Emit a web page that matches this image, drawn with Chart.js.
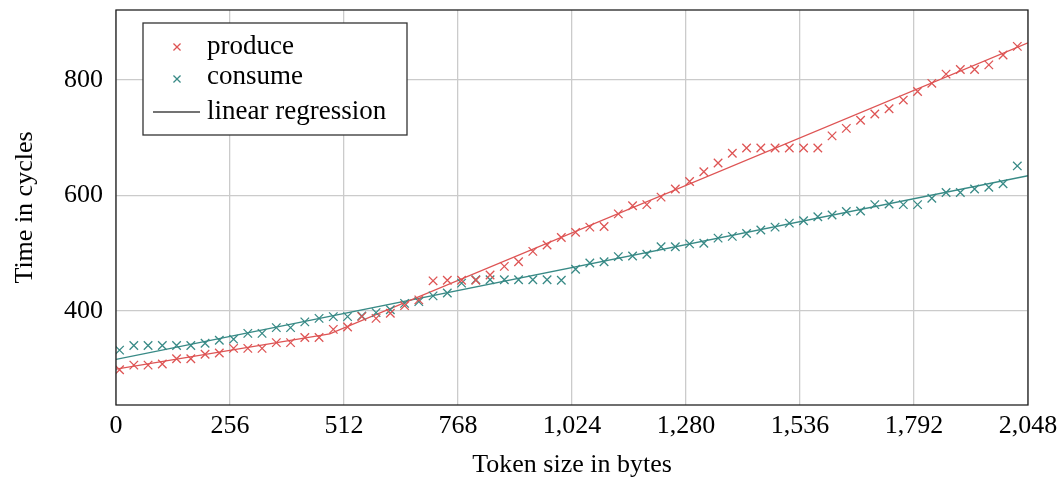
<!DOCTYPE html>
<html>
<head>
<meta charset="utf-8">
<script src="https://cdn.jsdelivr.net/npm/chart.js@4/dist/chart.umd.min.js"></script>
<style>
body { margin: 0; background: #fff; }
</style>
</head>
<body>
<canvas id="grafico" width="1060" height="483"></canvas>
<script>
// token sizes (bytes)
var tokenSizes = [8, 40, 72, 104, 136, 168, 200, 232, 264, 296, 328, 360, 392, 424, 456, 488,
    520, 552, 584, 616, 648, 680, 712, 744, 776, 808, 840, 872, 904, 936, 968, 1000,
    1032, 1064, 1096, 1128, 1160, 1192, 1224, 1256, 1288, 1320, 1352, 1384, 1416, 1448, 1480, 1512,
    1544, 1576, 1608, 1640, 1672, 1704, 1736, 1768, 1800, 1832, 1864, 1896, 1928, 1960, 1992, 2024];

// cycles for produce
var produceCycles = [298, 306, 306, 308, 317, 317, 325, 327, 335, 335, 335, 345, 345, 354, 354, 368,
    372, 390, 387, 396, 409, 419, 452, 453, 453, 453, 462, 477, 485, 503, 514, 527,
    536, 545, 546, 568, 582, 584, 597, 611, 624, 641, 656, 673, 682, 682, 682, 682,
    682, 682, 703, 716, 730, 741, 750, 765, 780, 794, 810, 818, 818, 826, 843, 858];

// cycles for consume
var consumeCycles = [332, 340, 340, 340, 340, 340, 344, 349, 351, 361, 361, 371, 371, 381, 387, 390,
    390, 391, 397, 402, 413, 416, 426, 431, 448, 454, 454, 454, 454, 454, 454, 453,
    472, 483, 485, 494, 495, 498, 511, 511, 516, 517, 526, 529, 534, 540, 545, 552,
    556, 563, 566, 572, 573, 584, 585, 584, 584, 595, 605, 605, 611, 614, 620, 651];

// regression lines
var produceFitX = [0, 480, 2048];
var produceFitY = [299, 360, 864];
var consumeFitX = [0, 2048];
var consumeFitY = [316, 634];

var xTicks = [0, 256, 512, 768, 1024, 1280, 1536, 1792, 2048];
var yTicks = [400, 600, 800];

var legendLabels = ['produce', 'consume', 'linear regression'];

var red = 'rgb(222, 84, 84)';
var teal = 'rgb(56, 138, 134)';
var fonte = '"Liberation Serif", "Times New Roman", serif';

function pares(xs, ys) {
    return xs.map(function (x, i) { return { x: x, y: ys[i] }; });
}

// frame around the plot area + legend box in the upper left corner
var molduraELegenda = {
    id: 'molduraELegenda',
    afterDraw: function (chart) {
        var ctx = chart.ctx;
        var area = chart.chartArea;
        ctx.save();
        ctx.strokeStyle = '#222';
        ctx.lineWidth = 1.3;
        ctx.strokeRect(area.left, area.top, area.right - area.left, area.bottom - area.top);

        // legend
        ctx.fillStyle = '#fff';
        ctx.fillRect(143, 23, 264, 112);
        ctx.strokeStyle = '#333';
        ctx.strokeRect(143, 23, 264, 112);

        ctx.lineWidth = 1.3;
        ctx.strokeStyle = red;
        Chart.helpers.drawPoint(ctx, { pointStyle: 'crossRot', radius: 5, borderWidth: 1.3 }, 177, 47);
        ctx.strokeStyle = teal;
        Chart.helpers.drawPoint(ctx, { pointStyle: 'crossRot', radius: 5, borderWidth: 1.3 }, 177, 79);
        ctx.strokeStyle = '#444';
        ctx.beginPath();
        ctx.moveTo(153, 112);
        ctx.lineTo(200, 112);
        ctx.stroke();

        ctx.fillStyle = '#000';
        ctx.font = '27px ' + fonte;
        ctx.textBaseline = 'alphabetic';
        ctx.textAlign = 'left';
        ctx.fillText(legendLabels[0], 207, 54);
        ctx.fillText(legendLabels[1], 207, 84);
        ctx.fillText(legendLabels[2], 207, 119);
        ctx.restore();
    }
};

var ctxGrafico = document.getElementById('grafico').getContext('2d');
var grafico = new Chart(ctxGrafico, {
    type: 'scatter',
    data: {
        datasets: [{
            label: legendLabels[0],
            data: pares(tokenSizes, produceCycles),
            pointStyle: 'crossRot',
            pointRadius: 6,
            pointBorderWidth: 1.3,
            borderColor: red,
            backgroundColor: red
        }, {
            label: legendLabels[1],
            data: pares(tokenSizes, consumeCycles),
            pointStyle: 'crossRot',
            pointRadius: 6,
            pointBorderWidth: 1.3,
            borderColor: teal,
            backgroundColor: teal
        }, {
            label: legendLabels[2],
            data: pares(produceFitX, produceFitY),
            showLine: true,
            pointRadius: 0,
            borderWidth: 1.3,
            borderColor: red
        }, {
            label: legendLabels[2],
            data: pares(consumeFitX, consumeFitY),
            showLine: true,
            pointRadius: 0,
            borderWidth: 1.3,
            borderColor: teal
        }]
    },
    options: {
        responsive: false,
        animation: false,
        devicePixelRatio: 1,
        layout: { padding: { left: 0, top: 10, right: 32, bottom: 0 } },
        plugins: {
            legend: { display: false },
            tooltip: { enabled: false }
        },
        scales: {
            x: {
                type: 'linear',
                min: 0,
                max: 2048,
                afterBuildTicks: function (scale) {
                    scale.ticks = xTicks.map(function (v) { return { value: v }; });
                },
                afterFit: function (scale) {
                    scale.height = 78;
                    scale.paddingLeft = 0;
                    scale.paddingRight = 0;
                },
                grid: { color: '#cbcbcb', lineWidth: 1.3, drawTicks: false },
                border: { display: false },
                ticks: {
                    color: '#000',
                    padding: 6,
                    maxRotation: 0,
                    font: { family: fonte, size: 26 },
                    callback: function (v) { return v.toLocaleString('en-US'); }
                },
                title: {
                    display: true,
                    text: 'Token size in bytes',
                    color: '#000',
                    font: { family: fonte, size: 26 },
                    padding: { top: 0, bottom: 2 }
                }
            },
            y: {
                type: 'linear',
                min: 237,
                max: 921,
                afterBuildTicks: function (scale) {
                    scale.ticks = yTicks.map(function (v) { return { value: v }; });
                },
                afterFit: function (scale) {
                    scale.width = 116;
                    scale.paddingTop = 0;
                    scale.paddingBottom = 0;
                },
                grid: { color: '#cbcbcb', lineWidth: 1.3, drawTicks: false },
                border: { display: false },
                ticks: {
                    color: '#000',
                    padding: 13,
                    font: { family: fonte, size: 26 },
                    callback: function (v) { return String(v); }
                },
                title: {
                    display: true,
                    text: 'Time in cycles',
                    color: '#000',
                    font: { family: fonte, size: 26 },
                    padding: { top: 10, bottom: 0 }
                }
            }
        }
    },
    plugins: [molduraELegenda]
});
</script>
</body>
</html>
